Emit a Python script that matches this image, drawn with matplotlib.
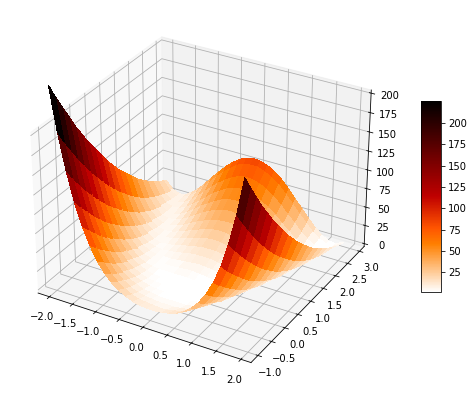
import numpy as np
import matplotlib
matplotlib.use("Agg")
import matplotlib.pyplot as plt

# Grid
x_vals = [-2.0, -1.85, -1.7, -1.55, -1.4, -1.25, -1.1, -0.95, -0.8, -0.65, -0.5, -0.35, -0.2, -0.05,
          0.1, 0.25, 0.4, 0.55, 0.7, 0.85, 1.0, 1.15, 1.3, 1.45, 1.6, 1.75, 1.9]
y_vals = [-1.0, -0.8, -0.6, -0.4, -0.2, 0.0, 0.2, 0.4, 0.6, 0.8, 1.0,
          1.2, 1.4, 1.6, 1.8, 2.0, 2.2, 2.4, 2.6, 2.8, 2.9]

# Surface heights, one row per x value, running along y
z_rows = [
    [259, 239, 221, 203, 185, 169, 153, 139, 125, 111, 99, 87, 77, 67, 57, 49, 41, 35, 29, 23, 21],
    [204, 186, 170, 154, 139, 125, 112, 100, 88, 77, 67, 58, 49, 41, 34, 28, 23, 19, 15, 12, 11],
    [159, 143, 129, 115, 103, 91, 80, 69, 60, 51, 43, 36, 29, 24, 19, 15, 12, 10, 8, 7, 7],
    [122, 109, 97, 85, 74, 64, 55, 47, 39, 32, 26, 21, 17, 13, 10, 8, 7, 7, 7, 8, 9],
    [93, 82, 71, 61, 52, 44, 37, 30, 24, 19, 15, 12, 9, 7, 6, 6, 6, 8, 10, 13, 15],
    [71, 61, 52, 44, 36, 29, 24, 19, 14, 11, 8, 6, 5, 5, 6, 7, 9, 12, 16, 20, 23],
    [53, 45, 37, 30, 24, 19, 15, 11, 8, 6, 5, 4, 5, 6, 8, 11, 14, 19, 24, 30, 33],
    [40, 33, 26, 21, 16, 12, 9, 6, 5, 4, 4, 5, 6, 9, 12, 16, 21, 26, 33, 40, 44],
    [30, 24, 19, 14, 10, 7, 5, 4, 3, 4, 5, 6, 9, 12, 17, 22, 28, 34, 42, 50, 54],
    [23, 18, 13, 10, 7, 4, 3, 3, 3, 4, 6, 9, 12, 17, 22, 28, 34, 42, 50, 59, 64],
    [18, 13, 9, 6, 4, 3, 2, 3, 3, 5, 8, 11, 15, 20, 26, 33, 40, 48, 57, 67, 72],
    [14, 10, 7, 5, 3, 2, 2, 3, 4, 6, 10, 13, 18, 24, 30, 37, 45, 54, 63, 74, 79],
    [12, 9, 6, 3, 2, 1, 2, 3, 5, 7, 11, 15, 20, 26, 32, 40, 48, 57, 67, 78, 83],
    [11, 8, 5, 3, 2, 1, 2, 3, 5, 8, 11, 15, 21, 27, 33, 41, 49, 59, 69, 79, 85],
    [11, 7, 5, 3, 1, 1, 1, 2, 4, 7, 11, 15, 20, 26, 33, 40, 49, 58, 68, 79, 84],
    [12, 8, 5, 3, 1, 1, 1, 2, 3, 6, 9, 13, 18, 24, 31, 38, 46, 55, 65, 75, 81],
    [14, 10, 6, 3, 2, 1, 0, 1, 2, 4, 7, 11, 16, 21, 27, 34, 42, 50, 60, 70, 75],
    [17, 12, 8, 5, 3, 1, 0, 0, 1, 3, 5, 8, 12, 17, 23, 29, 36, 44, 53, 63, 68],
    [22, 17, 12, 8, 5, 2, 1, 0, 0, 1, 3, 5, 8, 12, 17, 23, 29, 37, 45, 53, 58],
    [30, 23, 18, 13, 9, 5, 3, 1, 0, 0, 1, 2, 5, 8, 12, 16, 22, 28, 35, 43, 47],
    [40, 32, 26, 20, 14, 10, 6, 4, 2, 0, 0, 0, 2, 4, 6, 10, 14, 20, 26, 32, 36],
    [54, 45, 37, 30, 23, 17, 13, 9, 5, 3, 1, 0, 0, 1, 2, 5, 8, 12, 16, 22, 25],
    [72, 62, 53, 44, 36, 29, 22, 17, 12, 8, 5, 2, 1, 0, 0, 1, 3, 5, 8, 12, 15],
    [96, 84, 73, 63, 53, 44, 36, 29, 23, 17, 12, 8, 5, 3, 1, 0, 0, 1, 3, 5, 7],
    [127, 113, 100, 88, 77, 66, 56, 47, 39, 31, 25, 19, 14, 10, 6, 3, 2, 1, 0, 1, 2],
    [166, 150, 135, 120, 107, 94, 82, 71, 61, 52, 43, 35, 28, 22, 16, 12, 8, 5, 3, 1, 1],
    [213, 195, 178, 161, 146, 131, 117, 104, 91, 80, 69, 59, 50, 41, 34, 27, 21, 15, 11, 7, 6],
]

x_ticks = [-2.0, -1.5, -1.0, -0.5, 0.0, 0.5, 1.0, 1.5, 2.0]
y_ticks = [-1.0, -0.5, 0.0, 0.5, 1.0, 1.5, 2.0, 2.5, 3.0]
z_ticks = [0, 25, 50, 75, 100, 125, 150, 175, 200]
cbar_ticks = [25, 50, 75, 100, 125, 150, 175, 200]

X, Y = np.meshgrid(x_vals, y_vals, indexing="ij")
Z = np.array(z_rows, dtype=float)

W, H = 473, 394
fig = plt.figure(figsize=(W / 72, H / 72), dpi=72)
# Axes rect in pixels
ax_w, ax_h = 379, 379
ax_cx, ax_cy = 199, 197
ax = fig.add_axes([(ax_cx - ax_w / 2) / W, 1 - (ax_cy + ax_h / 2) / H, ax_w / W, ax_h / H],
                  projection="3d")

surf = ax.plot_surface(X, Y, Z, cmap="gist_heat_r", linewidth=0, antialiased=False,
                       rstride=1, cstride=1, vmin=2, vmax=226)

ax.set_xlim(-2.25, 2.2, view_margin=0)
ax.set_ylim(-1.25, 3.2, view_margin=0)
ax.set_zlim(-4, 204, view_margin=0)
ax.set_xticks(x_ticks)
ax.set_yticks(y_ticks)
ax.set_zticks(z_ticks)
ax.tick_params(labelsize=10, pad=3)

cax = fig.add_axes([421 / W, 1 - 292 / H, 20 / W, 191 / H])
cb = fig.colorbar(surf, cax=cax)
cb.set_ticks(cbar_ticks)
cb.ax.tick_params(labelsize=10)

fig.savefig("out.png", dpi=72)
